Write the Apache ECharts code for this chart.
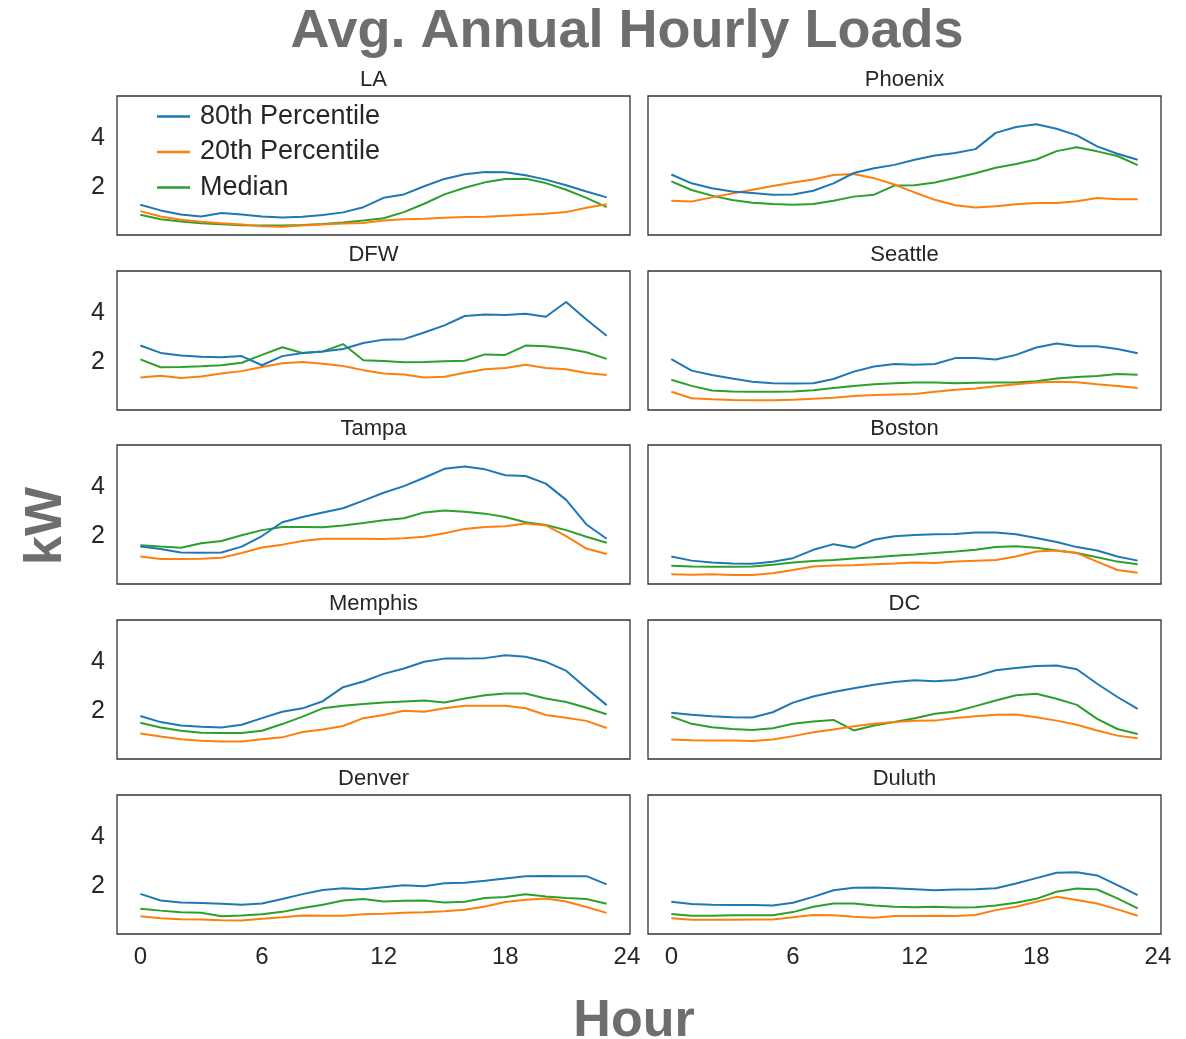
<!DOCTYPE html>
<html>
<head>
<meta charset="utf-8">
<script src="https://cdn.jsdelivr.net/npm/echarts@6/dist/echarts.min.js"></script>
<style>
  html, body { margin: 0; padding: 0; background: #fff; }
  #main { width: 1186px; height: 1039px; }
</style>
</head>
<body>
<div id="main"></div>
<script>
// hours 0..23
var hours = [];
for (var i = 0; i < 24; i++) hours.push(i);

var cities = ['LA', 'Phoenix', 'DFW', 'Seattle', 'Tampa', 'Boston', 'Memphis', 'DC', 'Denver', 'Duluth'];
var seriesNames = ['80th Percentile', '20th Percentile', 'Median'];
var xTicks = [0, 6, 12, 18, 24];
var yTicks = [2, 4];

// 80th percentile (kW)
var p80LA = [1.28, 1.05, 0.88, 0.80, 0.94, 0.88, 0.80, 0.76, 0.79, 0.86, 0.97, 1.18, 1.56, 1.70, 2.03, 2.33, 2.52, 2.61, 2.60, 2.48, 2.30, 2.07, 1.82, 1.58];
var p80Phoenix = [2.51, 2.15, 1.95, 1.82, 1.76, 1.69, 1.70, 1.85, 2.15, 2.57, 2.76, 2.90, 3.11, 3.28, 3.38, 3.54, 4.20, 4.44, 4.55, 4.37, 4.10, 3.65, 3.35, 3.11];
var p80DFW = [2.67, 2.37, 2.27, 2.21, 2.19, 2.24, 1.87, 2.24, 2.37, 2.43, 2.53, 2.77, 2.91, 2.93, 3.20, 3.49, 3.87, 3.93, 3.91, 3.96, 3.84, 4.44, 3.73, 3.07];
var p80Seattle = [2.12, 1.65, 1.47, 1.33, 1.20, 1.14, 1.13, 1.14, 1.31, 1.61, 1.82, 1.92, 1.89, 1.92, 2.16, 2.16, 2.10, 2.29, 2.59, 2.75, 2.64, 2.64, 2.53, 2.36];
var p80Tampa = [1.57, 1.47, 1.33, 1.32, 1.33, 1.57, 2.00, 2.56, 2.77, 2.96, 3.13, 3.44, 3.76, 4.03, 4.37, 4.73, 4.83, 4.71, 4.47, 4.44, 4.13, 3.47, 2.47, 1.89];
var p80Boston = [1.17, 1.00, 0.92, 0.88, 0.87, 0.95, 1.10, 1.44, 1.67, 1.52, 1.85, 1.99, 2.04, 2.07, 2.08, 2.14, 2.14, 2.07, 1.92, 1.76, 1.55, 1.41, 1.17, 1.00];
var p80Memphis = [1.80, 1.55, 1.41, 1.36, 1.33, 1.44, 1.71, 1.97, 2.11, 2.40, 2.97, 3.20, 3.51, 3.73, 4.00, 4.13, 4.13, 4.15, 4.27, 4.21, 4.00, 3.64, 2.93, 2.24];
var p80DC = [1.93, 1.85, 1.79, 1.75, 1.74, 1.95, 2.34, 2.59, 2.77, 2.93, 3.07, 3.18, 3.25, 3.21, 3.26, 3.41, 3.66, 3.75, 3.83, 3.85, 3.70, 3.11, 2.57, 2.09];
var p80Denver = [1.68, 1.41, 1.33, 1.31, 1.28, 1.24, 1.29, 1.47, 1.67, 1.84, 1.91, 1.87, 1.95, 2.03, 1.99, 2.11, 2.13, 2.21, 2.31, 2.40, 2.41, 2.40, 2.40, 2.07];
var p80Duluth = [1.36, 1.27, 1.24, 1.23, 1.23, 1.21, 1.32, 1.56, 1.83, 1.93, 1.94, 1.91, 1.87, 1.83, 1.86, 1.87, 1.91, 2.10, 2.32, 2.54, 2.56, 2.43, 2.04, 1.63];

// 20th percentile (kW)
var p20LA = [1.02, 0.80, 0.67, 0.59, 0.53, 0.48, 0.41, 0.39, 0.44, 0.48, 0.52, 0.54, 0.64, 0.69, 0.71, 0.75, 0.78, 0.79, 0.83, 0.87, 0.91, 0.98, 1.16, 1.30];
var p20Phoenix = [1.44, 1.41, 1.58, 1.74, 1.89, 2.04, 2.18, 2.31, 2.49, 2.53, 2.36, 2.10, 1.78, 1.48, 1.26, 1.17, 1.22, 1.30, 1.35, 1.35, 1.42, 1.55, 1.50, 1.50];
var p20DFW = [1.37, 1.44, 1.35, 1.41, 1.53, 1.63, 1.80, 1.95, 2.00, 1.93, 1.84, 1.67, 1.53, 1.49, 1.37, 1.40, 1.56, 1.71, 1.76, 1.89, 1.76, 1.71, 1.55, 1.47];
var p20Seattle = [0.79, 0.53, 0.49, 0.46, 0.45, 0.45, 0.47, 0.51, 0.55, 0.62, 0.66, 0.68, 0.70, 0.79, 0.87, 0.92, 1.02, 1.10, 1.17, 1.20, 1.18, 1.10, 1.03, 0.94];
var p20Tampa = [1.17, 1.07, 1.07, 1.08, 1.12, 1.31, 1.53, 1.65, 1.80, 1.89, 1.89, 1.89, 1.88, 1.91, 1.97, 2.11, 2.29, 2.37, 2.40, 2.51, 2.43, 2.00, 1.49, 1.27];
var p20Boston = [0.45, 0.43, 0.45, 0.42, 0.42, 0.49, 0.62, 0.76, 0.80, 0.81, 0.85, 0.88, 0.92, 0.90, 0.96, 1.00, 1.03, 1.17, 1.37, 1.41, 1.31, 0.96, 0.62, 0.51];
var p20Memphis = [1.09, 0.96, 0.85, 0.79, 0.76, 0.76, 0.85, 0.93, 1.15, 1.25, 1.39, 1.71, 1.84, 2.01, 1.97, 2.11, 2.21, 2.21, 2.21, 2.11, 1.84, 1.73, 1.60, 1.31];
var p20DC = [0.84, 0.81, 0.80, 0.80, 0.78, 0.84, 0.98, 1.14, 1.25, 1.38, 1.48, 1.55, 1.60, 1.61, 1.72, 1.79, 1.85, 1.86, 1.75, 1.61, 1.44, 1.21, 1.00, 0.89];
var p20Denver = [0.77, 0.69, 0.65, 0.64, 0.61, 0.60, 0.67, 0.73, 0.80, 0.79, 0.79, 0.85, 0.87, 0.91, 0.93, 0.97, 1.04, 1.17, 1.35, 1.44, 1.49, 1.37, 1.15, 0.91];
var p20Duluth = [0.69, 0.63, 0.63, 0.63, 0.64, 0.64, 0.73, 0.82, 0.81, 0.75, 0.71, 0.78, 0.78, 0.79, 0.78, 0.82, 1.02, 1.16, 1.36, 1.56, 1.43, 1.29, 1.05, 0.79];

// median (kW)
var medLA = [0.87, 0.69, 0.60, 0.53, 0.49, 0.45, 0.44, 0.44, 0.46, 0.50, 0.56, 0.64, 0.73, 0.98, 1.32, 1.70, 1.97, 2.19, 2.33, 2.34, 2.16, 1.89, 1.56, 1.18];
var medPhoenix = [2.23, 1.88, 1.65, 1.47, 1.36, 1.31, 1.28, 1.31, 1.44, 1.61, 1.69, 2.06, 2.07, 2.18, 2.37, 2.56, 2.78, 2.94, 3.12, 3.46, 3.62, 3.45, 3.26, 2.89];
var medDFW = [2.11, 1.79, 1.80, 1.83, 1.87, 1.97, 2.29, 2.60, 2.37, 2.43, 2.73, 2.07, 2.04, 1.99, 2.00, 2.03, 2.05, 2.31, 2.29, 2.67, 2.64, 2.55, 2.40, 2.13];
var medSeattle = [1.28, 1.03, 0.84, 0.80, 0.79, 0.79, 0.80, 0.85, 0.94, 1.03, 1.10, 1.14, 1.17, 1.17, 1.14, 1.16, 1.17, 1.17, 1.22, 1.33, 1.39, 1.43, 1.51, 1.48];
var medTampa = [1.63, 1.57, 1.52, 1.71, 1.80, 2.03, 2.24, 2.37, 2.37, 2.36, 2.43, 2.53, 2.64, 2.72, 2.96, 3.04, 2.99, 2.91, 2.77, 2.56, 2.45, 2.24, 1.97, 1.73];
var medBoston = [0.79, 0.76, 0.75, 0.75, 0.76, 0.83, 0.92, 0.98, 1.03, 1.09, 1.14, 1.20, 1.25, 1.31, 1.37, 1.44, 1.55, 1.58, 1.52, 1.41, 1.31, 1.14, 0.96, 0.85];
var medMemphis = [1.52, 1.33, 1.20, 1.12, 1.11, 1.11, 1.20, 1.47, 1.77, 2.11, 2.21, 2.29, 2.35, 2.39, 2.43, 2.35, 2.51, 2.64, 2.71, 2.71, 2.51, 2.37, 2.13, 1.87];
var medDC = [1.78, 1.48, 1.34, 1.27, 1.23, 1.30, 1.48, 1.57, 1.64, 1.21, 1.41, 1.55, 1.71, 1.89, 1.98, 2.20, 2.43, 2.64, 2.70, 2.50, 2.25, 1.68, 1.27, 1.07];
var medDenver = [1.08, 1.00, 0.93, 0.91, 0.77, 0.80, 0.85, 0.95, 1.11, 1.24, 1.41, 1.47, 1.37, 1.40, 1.41, 1.33, 1.36, 1.51, 1.55, 1.67, 1.57, 1.51, 1.47, 1.28];
var medDuluth = [0.86, 0.79, 0.79, 0.81, 0.81, 0.81, 0.94, 1.16, 1.29, 1.29, 1.21, 1.16, 1.14, 1.16, 1.13, 1.14, 1.21, 1.32, 1.48, 1.77, 1.90, 1.86, 1.50, 1.09];

var p80 = [p80LA, p80Phoenix, p80DFW, p80Seattle, p80Tampa, p80Boston, p80Memphis, p80DC, p80Denver, p80Duluth];
var p20 = [p20LA, p20Phoenix, p20DFW, p20Seattle, p20Tampa, p20Boston, p20Memphis, p20DC, p20Denver, p20Duluth];
var med = [medLA, medPhoenix, medDFW, medSeattle, medTampa, medBoston, medMemphis, medDC, medDenver, medDuluth];

var colors = ['#1f77b4', '#ff7f0e', '#2ca02c'];
var textColor = '#262626';
var labelGray = '#6e6e6e';

var colLeft = [117, 648];
var panelW = 513;
var rowTop = [96, 271, 445, 620, 795];
var panelH = 139;

function pairs(arr) {
  return hours.map(function (h, k) { return [h, arr[k]]; });
}

var grids = [], xAxes = [], yAxes = [], series = [];
var titles = [{
  text: 'Avg. Annual Hourly Loads',
  left: 627, top: 5, textAlign: 'center', padding: 0,
  textStyle: { fontFamily: 'Liberation Sans', fontWeight: 'bold', fontSize: 54, color: labelGray }
}];

cities.forEach(function (city, i) {
  var col = i % 2, row = Math.floor(i / 2);
  var left = colLeft[col], top = rowTop[row];
  grids.push({
    left: left, top: top, width: panelW, height: panelH,
    show: true, borderColor: '#333', borderWidth: 1.3, backgroundColor: '#fff'
  });
  xAxes.push({
    type: 'value', gridIndex: i, min: -1.15, max: 24.15,
    axisLine: { show: false }, axisTick: { show: false }, splitLine: { show: false },
    axisLabel: {
      show: row === 4, customValues: xTicks, margin: 11,
      fontFamily: 'Liberation Sans', fontSize: 24, color: textColor
    }
  });
  yAxes.push({
    type: 'value', gridIndex: i, min: 0.05, max: 5.7,
    axisLine: { show: false }, axisTick: { show: false }, splitLine: { show: false },
    axisLabel: {
      show: col === 0, customValues: yTicks, margin: 12,
      fontFamily: 'Liberation Sans', fontSize: 25, color: textColor
    }
  });
  titles.push({
    text: city, left: left + panelW / 2, top: top - 27, textAlign: 'center', padding: 0,
    textStyle: { fontFamily: 'Liberation Sans', fontWeight: 'normal', fontSize: 22, color: textColor }
  });
  [p80[i], p20[i], med[i]].forEach(function (arr, s) {
    series.push({
      name: seriesNames[s], type: 'line', xAxisIndex: i, yAxisIndex: i,
      data: pairs(arr), symbol: 'none', smooth: false, silent: true,
      lineStyle: { color: colors[s], width: 2 }, itemStyle: { color: colors[s] },
      z: 3 - s
    });
  });
});

titles.push({
  text: 'Hour', left: 634, top: 996, textAlign: 'center', padding: 0,
  textStyle: { fontFamily: 'Liberation Sans', fontWeight: 'bold', fontSize: 52, color: labelGray }
});

var option = {
  backgroundColor: '#fff',
  animation: false,
  color: colors,
  title: titles,
  legend: {
    data: seriesNames, orient: 'vertical', left: 157, top: 103, padding: 0,
    icon: 'rect', itemWidth: 33, itemHeight: 2.5, itemGap: 8.5,
    textStyle: { fontFamily: 'Liberation Sans', fontSize: 27, lineHeight: 27, color: textColor, padding: [0, 0, 0, 5] }
  },
  graphic: [{
    type: 'text', x: 47, y: 526, rotation: Math.PI / 2,
    style: {
      text: 'kW', align: 'center', verticalAlign: 'middle',
      font: 'bold 52px "Liberation Sans"', fill: labelGray
    }
  }],
  grid: grids,
  xAxis: xAxes,
  yAxis: yAxes,
  series: series
};

var myChart = echarts.init(document.getElementById('main'));
myChart.setOption(option);
</script>
</body>
</html>
